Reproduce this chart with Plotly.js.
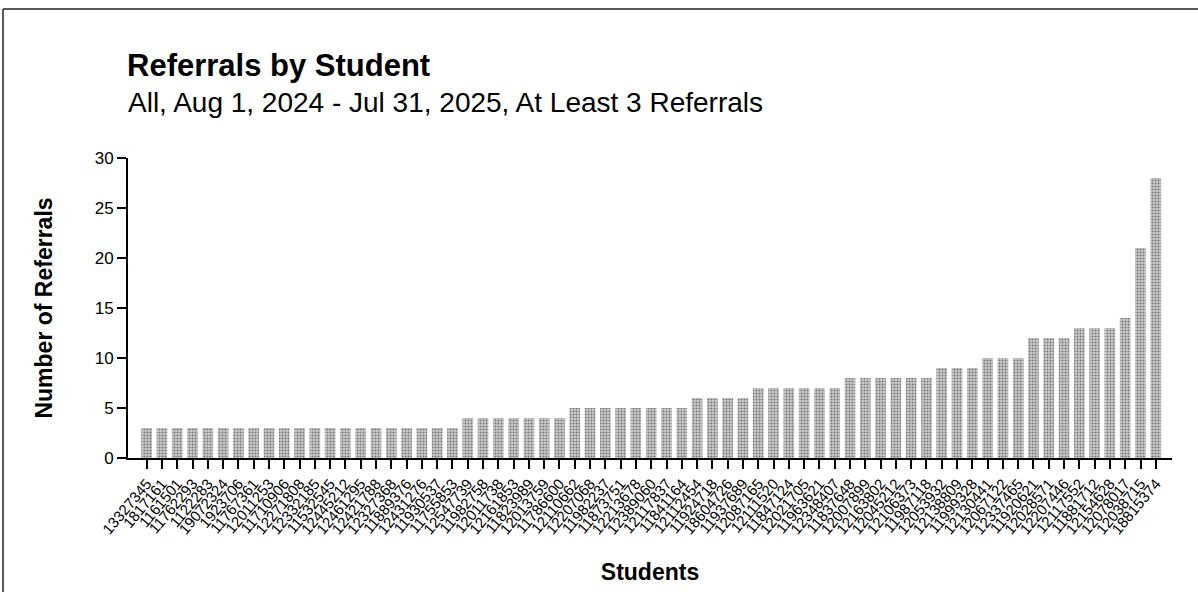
<!DOCTYPE html>
<html>
<head>
<meta charset="utf-8">
<script src="https://cdn.plot.ly/plotly-3.0.1.min.js"></script>
<style>
html,body{margin:0;padding:0;background:#fff;}
#chart{width:1198px;height:592px;}
</style>
</head>
<body>
<div id="chart"></div>
<script>
// Student IDs (tick labels; the scan is barely legible, so these are best-effort readings)
var students = [
  "13327345","1817161","1161501","11762293","1122283","19072324","1923706","11767361",
  "12011253","11710906","12271808","12332185","11532545","12445212","12461295","12421788",
  "12327368","11889376","12431276","11930537","11755853","12547739","11982758","12011738",
  "12161853","11823989","12013759","11786600","12110662","12207068","11982237","11873751",
  "12213678","12389060","12117837","11841164","12112454","11924718","18604726","11937689",
  "12087165","12111520","11847124","12021705","11963621","12348407","11837648","12007899",
  "12163802","12045212","12106373","11987118","12053932","12138809","11999328","12130441",
  "12067122","12337465","11920621","12028571","12207446","12117552","11881712","12154628",
  "12078017","12038715","18815374"
];
var referrals = [
  3,3,3,3,3,3,3,3,3,3,3,3,3,3,3,3,3,3,3,3,3,
  4,4,4,4,4,4,4,
  5,5,5,5,5,5,5,5,
  6,6,6,6,
  7,7,7,7,7,7,
  8,8,8,8,8,8,
  9,9,9,
  10,10,10,
  12,12,12,
  13,13,13,
  14,
  21,
  28
];
var yTicks = [0,5,10,15,20,25,30];
var chartTitle = 'Referrals by Student';
var chartSubtitle = 'All, Aug 1, 2024 - Jul 31, 2025, At Least 3 Referrals';

var trace = {
  type: 'bar',
  x: students,
  y: referrals,
  marker: {
    color: '#c2c2c2',
    line: {width: 0},
    pattern: {shape: '.', fgcolor: '#7a7a7a', bgcolor: '#cccccc', size: 3, solidity: 0.4}
  },
  hoverinfo: 'x+y'
};

var layout = {
  width: 1198,
  height: 592,
  margin: {l: 128, r: 26, t: 158, b: 134, autoexpand: false},
  paper_bgcolor: '#ffffff',
  plot_bgcolor: '#ffffff',
  bargap: 0.3,
  showlegend: false,
  font: {family: 'Liberation Sans, Arial, sans-serif', color: '#000'},
  title: {
    text: '<b>' + chartTitle + '</b>',
    font: {family: 'Liberation Sans, Arial, sans-serif', size: 31, color: '#000'},
    x: 127/1198, xanchor: 'left', xref: 'container',
    y: 1 - 54/592, yanchor: 'top', yref: 'container',
    pad: {l: 0, t: 0}
  },
  annotations: [{
    text: chartSubtitle,
    xref: 'paper', yref: 'paper',
    x: -2/1044, y: (458 - 85) / 300,
    xanchor: 'left', yanchor: 'top',
    showarrow: false,
    font: {family: 'Liberation Sans, Arial, sans-serif', size: 28, color: '#000'}
  }],
  xaxis: {
    type: 'category',
    range: [-1.22, 67.06],
    tickmode: 'array',
    tickvals: students,
    ticktext: students,
    automargin: false,
    showline: true, linecolor: '#000', linewidth: 2,
    ticks: 'outside', ticklen: 9, tickwidth: 2, tickcolor: '#000',
    tickangle: -50,
    tickfont: {size: 15, color: '#000'},
    showgrid: false, zeroline: false,
    title: {text: '<b>Students</b>', font: {size: 23, color: '#000'}, standoff: 28}
  },
  yaxis: {
    range: [0, 30],
    tickvals: yTicks,
    automargin: false,
    showline: true, linecolor: '#000', linewidth: 2,
    ticks: 'outside', ticklen: 9, tickwidth: 2, tickcolor: '#000',
    tickfont: {size: 17, color: '#000'},
    showgrid: false, zeroline: false,
    title: {text: '<b>Number of Referrals</b>', font: {size: 23, color: '#000'}, standoff: 36}
  },
  shapes: [
    {type: 'line', xref: 'paper', yref: 'paper', x0: -125/1044, x1: -125/1044, y0: -134/300, y1: 449/300, line: {color: '#222', width: 1.5}},
    {type: 'line', xref: 'paper', yref: 'paper', x0: -125/1044, x1: 1070/1044, y0: 449/300, y1: 449/300, line: {color: '#222', width: 1.5}}
  ]
};

Plotly.newPlot('chart', [trace], layout, {displayModeBar: false, staticPlot: true});
</script>
</body>
</html>
